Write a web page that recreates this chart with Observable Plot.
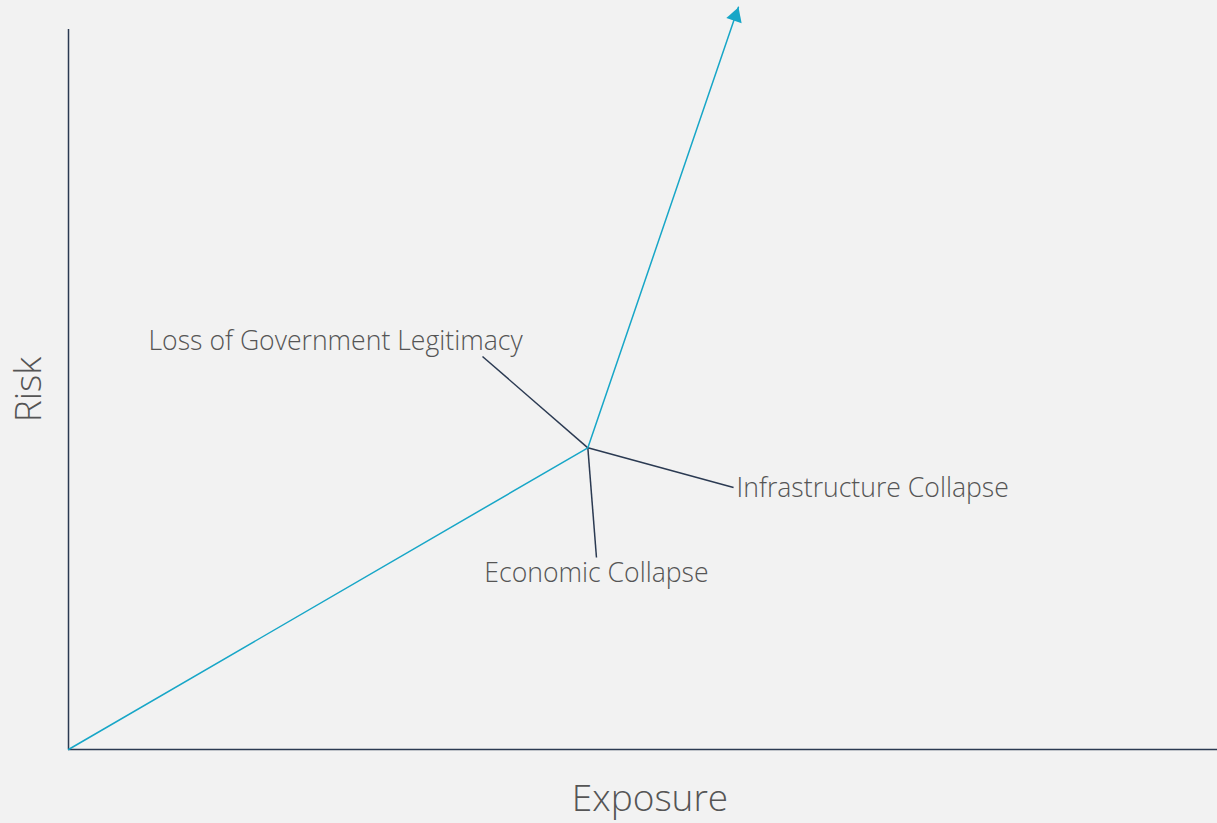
<!DOCTYPE html>
<html>
<head>
<meta charset="utf-8">
<script src="https://cdn.jsdelivr.net/npm/d3@7"></script>
<script src="https://cdn.jsdelivr.net/npm/@observablehq/plot@0.6"></script>
<style>
  html, body { margin: 0; padding: 0; background: #f2f2f2; }
  #chart svg { display: block; }
</style>
</head>
<body>
<div id="chart"></div>
<script>
// Trajectory (Exposure, Risk)
const pathExposure = [0, 4.52, 5.83];
const pathRisk = [0, 4.19, 10.31];

// Arrowhead centre
const headExposure = [5.805];
const headRisk = [10.185];

// Labels and their leader lines (from the pivot point)
const labelNames = ["Loss of Government Legitimacy", "Infrastructure Collapse", "Economic Collapse"];
const leaderExposure = [3.603, 5.788, 4.595];
const leaderRisk = [5.458, 3.639, 2.667];
const labelExposure = [2.324, 5.814, 4.595];
const labelRisk = [5.667, 3.625, 2.445];
const labelAnchor = ["middle", "start", "middle"];

const axisLabels = { x: "Exposure", y: "Risk" };

const pivotX = pathExposure[1], pivotY = pathRisk[1];
const path = pathExposure.map((x, i) => ({ x, y: pathRisk[i] }));
const leaders = labelNames.map((name, i) => ({
  x1: pivotX, y1: pivotY, x2: leaderExposure[i], y2: leaderRisk[i]
}));
const labels = labelNames.map((name, i) => ({
  name, x: labelExposure[i], y: labelRisk[i], anchor: labelAnchor[i]
}));
const head = headExposure.map((x, i) => ({ x, y: headRisk[i] }));

const teal = "#17a6c7";
const navy = "#2b3a52";
const textColor = "#555555";
const font = "'Open Sans', sans-serif";
const labelSize = 26.6;
const axisSize = 37;

const chart = Plot.plot({
  width: 1217,
  height: 823,
  marginLeft: 68,
  marginRight: 0,
  marginTop: 29,
  marginBottom: 74,
  style: { background: "#f2f2f2", fontFamily: font, overflow: "visible" },
  x: { domain: [0, 10], axis: null },
  y: { domain: [0, 10], axis: null },
  marks: [
    Plot.ruleX([0], { stroke: navy, strokeWidth: 1.5 }),
    Plot.ruleY([0], { stroke: navy, strokeWidth: 1.5 }),
    Plot.link(leaders, { x1: "x1", y1: "y1", x2: "x2", y2: "y2", stroke: navy, strokeWidth: 1.5, clip: false }),
    Plot.line(path, { x: "x", y: "y", stroke: teal, strokeWidth: 1.5, clip: false }),
    Plot.dot(head, { x: "x", y: "y", symbol: "triangle", r: 6, fill: teal, stroke: "none", rotate: 19 }),
    Plot.text(labels.filter(d => d.anchor === "middle"), { x: "x", y: "y", text: "name", textAnchor: "middle", fontSize: labelSize, fontWeight: 300, fill: textColor, fontFamily: font }),
    Plot.text(labels.filter(d => d.anchor === "start"), { x: "x", y: "y", text: "name", textAnchor: "start", fontSize: labelSize, fontWeight: 300, fill: textColor, fontFamily: font }),
    Plot.text([axisLabels.x], { frameAnchor: "bottom", lineAnchor: "middle", textAnchor: "middle", dx: 7, dy: 50, text: d => d, fontSize: axisSize, fontWeight: 300, fill: textColor, fontFamily: font }),
    Plot.text([axisLabels.y], { frameAnchor: "left", lineAnchor: "middle", textAnchor: "middle", dx: -39, text: d => d, rotate: -90, fontSize: axisSize, fontWeight: 300, fill: textColor, fontFamily: font })
  ]
});
document.getElementById("chart").append(chart);
</script>
</body>
</html>
